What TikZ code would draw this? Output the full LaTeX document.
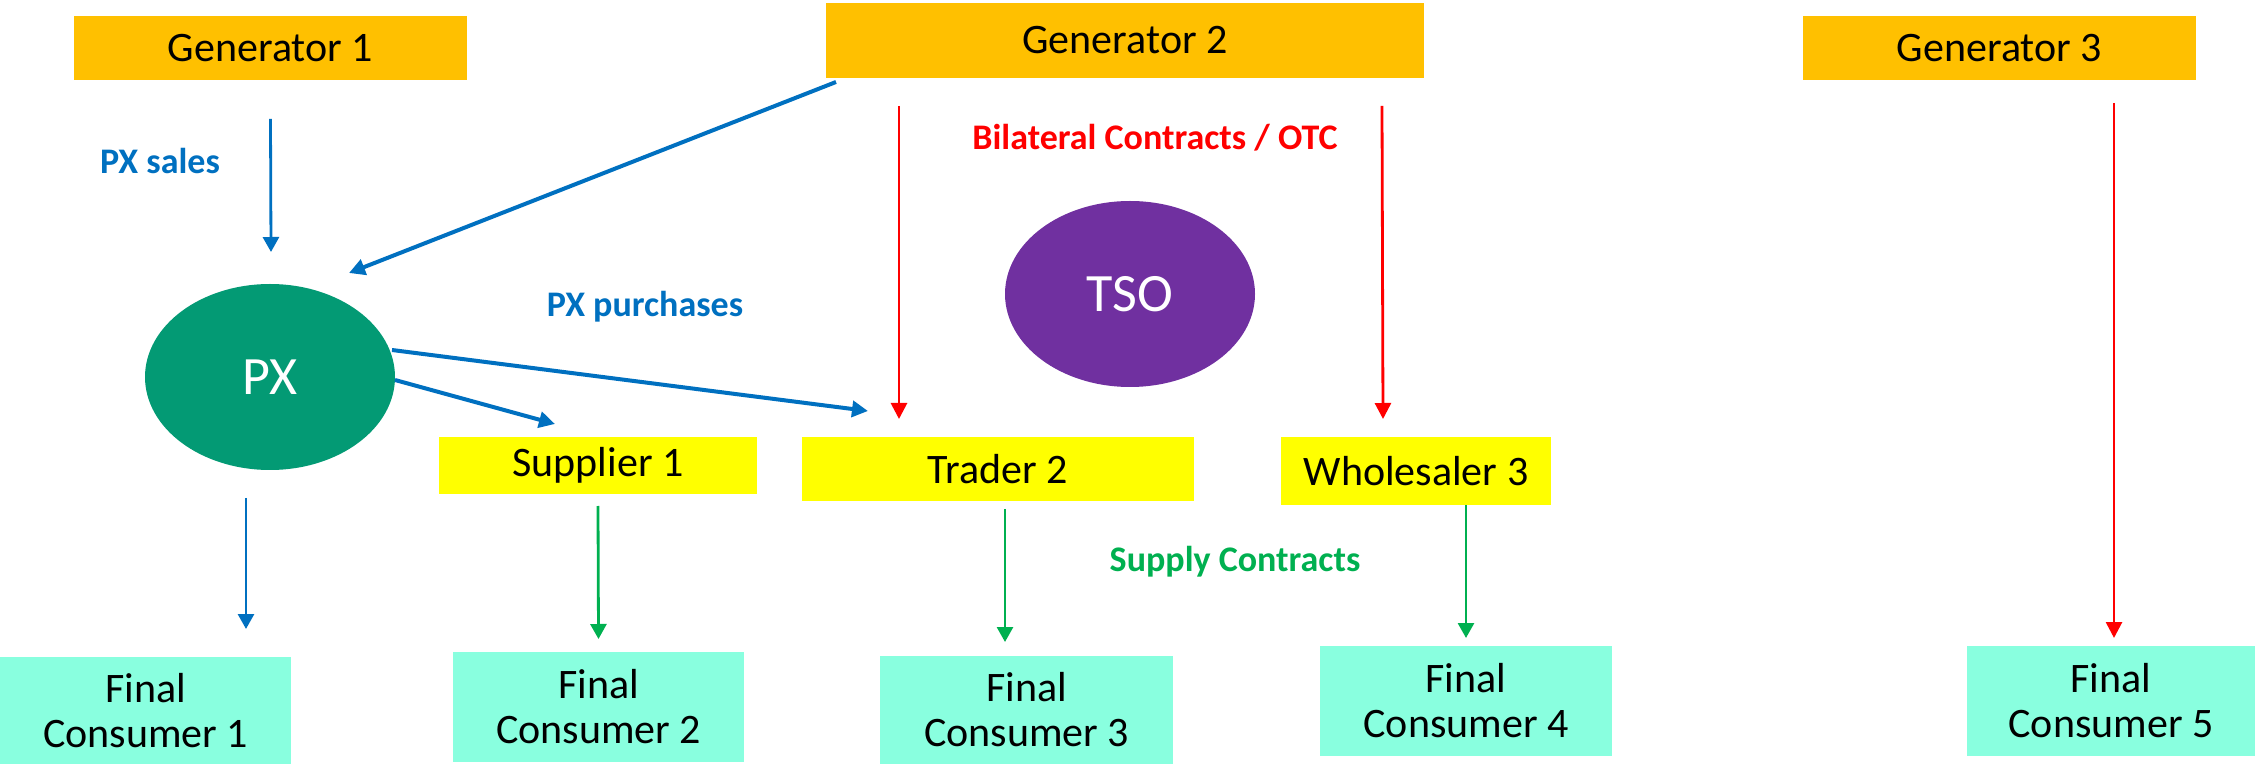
\documentclass[tikz,border=0pt]{standalone}
\usepackage{fontspec}
\setmainfont{Carlito}
\usepackage{xcolor}
\usepackage{tikz}
\usetikzlibrary{arrows.meta}
\usetikzlibrary{shapes.geometric}
\definecolor{genorange}{HTML}{FFC000}
\definecolor{midyellow}{HTML}{FFFF00}
\definecolor{consaqua}{HTML}{89FFDF}
\definecolor{pxgreen}{HTML}{039A74}
\definecolor{tsopurple}{HTML}{7030A0}
\definecolor{flowblue}{HTML}{0070C0}
\definecolor{flowgreen}{HTML}{00B050}
\definecolor{flowred}{HTML}{FF0000}
\def\boxfont{\fontsize{21pt}{22.5pt}\selectfont}
\def\ovalfont{\fontsize{27pt}{30pt}\selectfont}
\def\tagfont{\fontsize{18pt}{20pt}\selectfont\bfseries}

\begin{document}
\begin{tikzpicture}[x=0.5pt, y=-0.5pt,
	anybox/.style={inner sep=0pt, outer sep=0pt, font=\boxfont, align=center},
	genbox/.style={anybox, fill=genorange},
	midbox/.style={anybox, fill=midyellow},
	consbox/.style={anybox, fill=consaqua},
	oval/.style={ellipse, inner sep=0pt, outer sep=0pt, minimum width=125pt, minimum height=93pt, font=\ovalfont, text=white},
	tag/.style={font=\tagfont, inner sep=0pt},
	blu/.style={draw=flowblue, line width=1.4pt, -{Triangle[length=7.5pt, width=8pt]}},
	bludiag/.style={blu, line width=2pt, -{Triangle[length=8pt, width=8pt]}},
	grn/.style={draw=flowgreen, line width=1.4pt, -{Triangle[length=7.5pt, width=8pt]}},
	rd/.style={draw=flowred, line width=1.4pt, -{Triangle[length=8pt, width=8pt]}}]
	\useasboundingbox (0,0) rectangle (2255,764);
	\node[genbox, minimum width=196.5pt, minimum height=32pt] (gen1) at (270.5,48) {Generator 1};
	\node[genbox, minimum width=299pt, minimum height=37.5pt] (gen2) at (1125,40.5) {Generator 2};
	\node[genbox, minimum width=196.5pt, minimum height=32pt] (gen3) at (1999.5,48) {Generator 3};
	\node[oval, fill=pxgreen] (px) at (270,377) {PX};
	\node[oval, fill=tsopurple] (tso) at (1130,294) {TSO};
	\node[midbox, minimum width=159pt, minimum height=28.5pt] (sup1) at (598,465.5) {Supplier 1};
	\node[midbox, minimum width=196pt, minimum height=32pt] (trd2) at (998,469) {Trader 2};
	\node[midbox, minimum width=135pt, minimum height=34pt] (whs3) at (1416,471) {Wholesaler 3};
	\node[consbox, minimum width=145.5pt, minimum height=53.5pt] (fc1) at (145.5,710.5) {Final\\Consumer 1};
	\node[consbox, minimum width=145.5pt, minimum height=55pt] (fc2) at (598.5,707) {Final\\Consumer 2};
	\node[consbox, minimum width=146.5pt, minimum height=54pt] (fc3) at (1026.5,710) {Final\\Consumer 3};
	\node[consbox, minimum width=146pt, minimum height=55pt] (fc4) at (1466,701) {Final\\Consumer 4};
	\node[consbox, minimum width=144pt, minimum height=55pt] (fc5) at (2111,701) {Final\\Consumer 5};
	\node[tag, text=flowblue] (pxsales) at (160,161) {PX sales};
	\node[tag, text=flowblue] (pxbuys) at (645,307) {PX purchases};
	\node[tag, text=flowred] (otc) at (1155,138) {Bilateral Contracts / OTC};
	\node[tag, text=flowgreen] (supply) at (1235,562) {Supply Contracts};
	\draw[blu] ([shift={(0,39)}]gen1.south) -- ([shift={(1,-32)}]px.north);
	\draw[bludiag] ([shift={(10,4)}]gen2.south west) -- ([shift={(79,-11)}]px.north);
	\draw[bludiag] ([shift={(-3,-27)}]px.east) -- ([shift={(66,-26)}]trd2.north west);
	\draw[bludiag] ([shift={(0,3)}]px.east) -- ([shift={(-43,-13)}]sup1.north);
	\draw[blu] ([shift={(-24,28)}]px.south) -- ([shift={(100.5,-28)}]fc1.north);
	\draw[rd] ([shift={(73,28)}]gen2.south west) -- ([shift={(-99,-18)}]trd2.north);
	\draw[rd] ([shift={(-42,28)}]gen2.south east) -- ([shift={(-33,-18)}]whs3.north);
	\draw[rd] ([shift={(114.5,23)}]gen3.south) -- ([shift={(3,-8)}]fc5.north);
	\draw[grn] ([shift={(0,12)}]sup1.south) -- ([shift={(0,-13)}]fc2.north);
	\draw[grn] ([shift={(7,8)}]trd2.south) -- ([shift={(-21.5,-14)}]fc3.north);
	\draw[grn] ([shift={(50,0)}]whs3.south) -- ([shift={(0,-8)}]fc4.north);
\end{tikzpicture}
\end{document}
